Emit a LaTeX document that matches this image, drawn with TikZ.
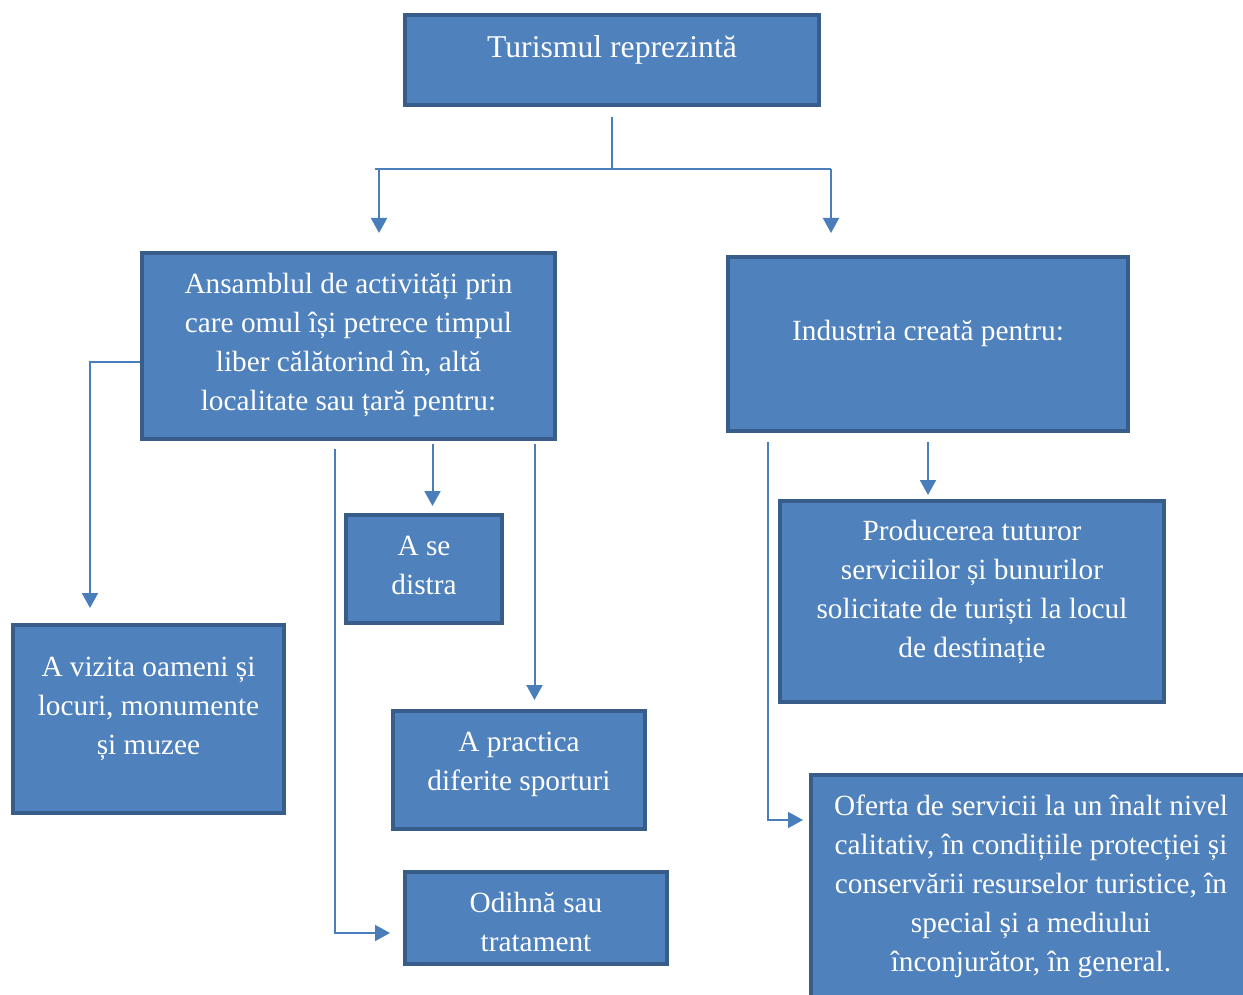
\documentclass[tikz,border=0pt]{standalone}
\usepackage{fontspec}
\setmainfont{Liberation Serif}
\usetikzlibrary{arrows.meta}

\definecolor{boxfill}{HTML}{4F81BD}
\definecolor{boxline}{HTML}{385D8A}
\definecolor{linkcol}{HTML}{4A7EBB}

\tikzset{
  block/.style={draw=boxline, fill=boxfill, line width=4pt, text=white,
    align=center, inner sep=0pt, anchor=base,
    font=\fontsize{29.3}{39}\selectfont},
  title/.style={block, font=\fontsize{31.7}{39}\selectfont},
  link/.style={draw=linkcol, line width=2pt},
  arrow/.style={link, -{Triangle[length=15pt,width=16pt]}},
}

\begin{document}
\begin{tikzpicture}[x=1pt, y=-1pt]
\path[use as bounding box, clip] (0,0) rectangle (1243,995);

\node[title, minimum width=414pt, text height=43pt, text depth=47pt] (top) at (612,58) {Turismul reprezintă};
\node[block, minimum width=413pt, text height=157pt, text depth=29pt] (ans) at (348.5,410) {Ansamblul de activități prin\\care omul își petrece timpul\\liber călătorind în, altă\\localitate sau țară pentru:};
\node[block, minimum width=400pt, text height=83pt, text depth=91pt] (ind) at (928,340) {Industria creată pentru:};
\node[block, minimum width=156pt, text height=79pt, text depth=29pt] (dis) at (424,594) {A se\\distra};
\node[block, minimum width=271pt, text height=129pt, text depth=59pt] (viz) at (148.5,754) {A vizita oameni și\\locuri, monumente\\și muzee};
\node[block, minimum width=252pt, text height=79pt, text depth=39pt] (spo) at (519,790) {A practica\\diferite sporturi};
\node[block, minimum width=262pt, text height=79pt, text depth=13pt] (odi) at (536,951) {Odihnă sau\\tratament};
\node[block, minimum width=384pt, text height=156pt, text depth=45pt] (prod) at (972,657) {Producerea tuturor\\serviciilor și bunurilor\\solicitate de turiști la locul\\de destinație};
\node[block, minimum width=440pt, text height=196pt, text depth=39pt] (ofe) at (1031,971) {Oferta de servicii la un înalt nivel\\calitativ, în condițiile protecției și\\conservării resurselor turistice, în\\special și a mediului\\înconjurător, în general.};

% split under the title
\coordinate (hub) at (612,169);
\coordinate (lbend) at (379,169);
\coordinate (rbend) at (831,169);
\draw[link, shorten <=10pt] (top) -- (hub);
\draw[link] ([xshift=-4pt]lbend) -- (rbend);
\draw[arrow, shorten >=18pt] (lbend) -- (lbend |- ans.north);
\draw[arrow, shorten >=22pt] (rbend) -- (rbend |- ind.north);

% left block
\draw[arrow, shorten >=15pt] ([yshift=-16pt]ans.west) -| ([xshift=-58.5pt]viz.north);
\draw[arrow, shorten <=3pt, shorten >=7pt] ([xshift=84pt]ans.south) -- ([xshift=84pt]ans.south |- dis.north);
\draw[arrow, shorten <=3pt, shorten >=9pt] ([xshift=186pt]ans.south) -- ([xshift=186pt]ans.south |- spo.north);
\draw[arrow, shorten <=8pt, shorten >=13pt] ([xshift=-14pt]ans.south) |- ([yshift=-15pt]odi.west);

% right block
\draw[arrow, shorten <=9pt, shorten >=4pt] (ind.south) -- (ind.south |- prod.north);
\draw[arrow, shorten <=9pt, shorten >=6pt] ([xshift=-160pt]ind.south) |- ([yshift=72.5pt]ofe.west);
\end{tikzpicture}
\end{document}
